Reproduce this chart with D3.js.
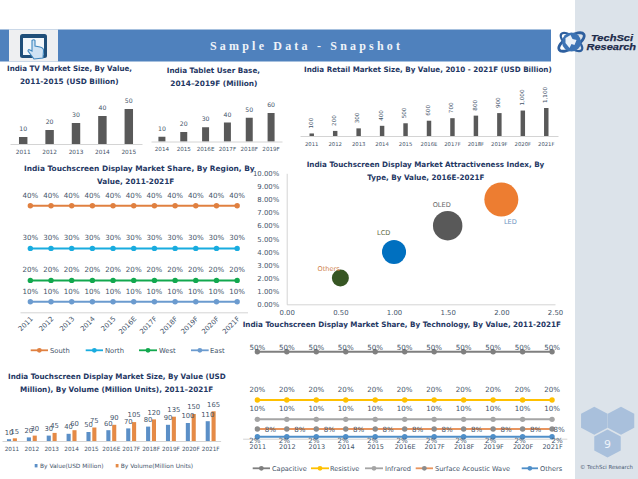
<!DOCTYPE html>
<html><head><meta charset="utf-8">
<script src="https://cdn.jsdelivr.net/npm/d3@7/dist/d3.min.js"></script>
<style>
html,body{margin:0;padding:0;background:#fff}
svg{display:block}
text{font-family:"DejaVu Sans",sans-serif}
</style></head><body><div id="c"></div>
<script>
// ---- Data ----
const tvYears=["2011","2012","2013","2014","2015"];
const tvValues=[10,20,30,40,50];
const tabletYears=["2014","2015","2016E","2017F","2018F","2019F"];
const tabletValues=[10,20,30,40,50,60];
const forecastYears=["2011","2012","2013","2014","2015","2016E","2017F","2018F","2019F","2020F","2021F"];
const retailValues=[100,200,300,400,500,600,700,800,900,1000,1100];
const retailLabels=["100","200","300","400","500","600","700","800","900","1,000","1,100"];
const regionNames=["East","West","North","South"];
const regionEast=[10,10,10,10,10,10,10,10,10,10,10];
const regionWest=[20,20,20,20,20,20,20,20,20,20,20];
const regionNorth=[30,30,30,30,30,30,30,30,30,30,30];
const regionSouth=[40,40,40,40,40,40,40,40,40,40,40];
const bubbleNames=["Others","LCD","OLED","LED"];
const bubbleX=[0.5,1,1.5,2];
const bubbleY=[2,4,6,8];
const bubbleSize=[2,4,6,8];
const techNames=["Others","Surface Acoustic Wave","Infrared","Resistive","Capacitive"];
const techOthers=[2,2,2,2,2,2,2,2,2,2,2];
const techSAW=[8,8,8,8,8,8,8,8,8,8,8];
const techInfrared=[10,10,10,10,10,10,10,10,10,10,10];
const techResistive=[20,20,20,20,20,20,20,20,20,20,20];
const techCapacitive=[50,50,50,50,50,50,50,50,50,50,50];
const sizeValue=[10,20,30,40,50,60,70,80,90,100,110];
const sizeVolume=[15,30,45,60,75,90,105,120,135,150,165];

// ---- Style ----
const W=638,H=479;
const NAVY="#1f3864",TXT="#44546a",AXIS="#c9c9c9",BAR="#595959";
const svg=d3.select("#c").append("svg").attr("width",W).attr("height",H);

// Backgrounds
svg.append("rect").attr("x",575).attr("y",0).attr("width",63).attr("height",479).attr("fill","#dce3ea");
svg.append("rect").attr("x",0).attr("y",29.5).attr("width",551).attr("height",32).attr("fill","#4f81bd");
svg.append("rect").attr("x",9).attr("y",29.5).attr("width",49).attr("height",32).attr("fill","#eeeff1");
// tablet icon
const ic=svg.append("g");
ic.append("rect").attr("x",20).attr("y",34).attr("width",27).attr("height",24).attr("rx",2.5).attr("fill","#1f4e79");
ic.append("rect").attr("x",23).attr("y",38).attr("width",21).attr("height",17).attr("fill","#f2f6fa");
ic.append("path").attr("d","M32 44 L32 40.5 Q34 39 35 40.5 L35 46 L40 47 Q44 48 43.5 51 L43 58 L34 59 L28 51 Q28 49 30 50 L32 51 Z")
  .attr("fill","#cfe2f3").attr("stroke","#3f87bf").attr("stroke-width",1.1);
// header title
svg.append("text").text("Sample Data - Snapshot").attr("x",210).attr("y",50).attr("textLength",190)
  .attr("lengthAdjust","spacing").style("font-family","'Liberation Serif',serif")
  .style("font-weight","bold").style("font-size","12px").attr("fill","#eef3f9");

// logo
const lg=svg.append("g").attr("transform","translate(571.5,42)");
lg.append("ellipse").attr("rx",14.5).attr("ry",6).attr("transform","rotate(-32)").attr("fill","none").attr("stroke","#2e5f9e").attr("stroke-width",2.8);
lg.append("ellipse").attr("rx",13).attr("ry",5.5).attr("transform","rotate(38)").attr("fill","none").attr("stroke","#2e5f9e").attr("stroke-width",2.2);
lg.append("circle").attr("r",9.5).attr("fill","#3c73b4");
lg.append("path").attr("d","M-6 -4 L-1 -7 L1 -3 L5 -2 L3 3 L0 2 L-2 6 L-6 1 Z").attr("fill","#eaf1f8");
[["TechSci",591,40.5,42],["Research",586.5,49.5,49.5]].forEach(d=>{
  svg.append("text").text(d[0]).attr("x",d[1]).attr("y",d[2]).attr("textLength",d[3]).attr("lengthAdjust","spacingAndGlyphs")
   .style("font-family","'Liberation Sans',sans-serif").style("font-weight","bold").style("font-style","italic").style("font-size","9.5px")
   .attr("fill","#1d2b4a").attr("stroke","#1d2b4a").attr("stroke-width",.25);
});

// hexagons
const hexPts=(cx,cy,w,h)=>[[cx,cy-h/2],[cx+w/2,cy-h/4],[cx+w/2,cy+h/4],[cx,cy+h/2],[cx-w/2,cy+h/4],[cx-w/2,cy-h/4]].join(" ");
[[594.3,420.7],[621,420.7],[607.5,443.5]].forEach(c=>svg.append("polygon").attr("points",hexPts(c[0],c[1],26.5,28)).attr("fill","#a9c0dc"));
svg.append("text").text("9").attr("x",607.5).attr("y",447.5).attr("text-anchor","middle").style("font-size","11px").attr("fill","#eef3f9");
svg.append("text").text("© TechSci Research").attr("x",580).attr("y",468.5).attr("textLength",53).attr("lengthAdjust","spacingAndGlyphs").style("font-size","5.6px").attr("fill","#4a5a75");

// Helpers
function title(t,x0,x1,yc,fs){
  svg.append("text").text(t).attr("x",x0).attr("y",yc+2.6).attr("textLength",x1-x0).attr("lengthAdjust","spacingAndGlyphs")
   .style("font-size",(fs||7.4)+"px").style("font-weight","bold").attr("fill",NAVY);
}
function xAxis(scale,y,pad,fs){
  const g=svg.append("g").attr("transform",`translate(0,${y})`).call(d3.axisBottom(scale).tickSize(0).tickPadding(pad));
  g.select(".domain").attr("stroke",AXIS).attr("stroke-width",.8);
  g.selectAll("text").style("font-size",fs+"px").style("font-family","'DejaVu Sans',sans-serif").attr("fill",TXT);
  return g;
}
function valLabel(t,x,y,fs,col,anchor){
  return svg.append("text").text(t).attr("x",x).attr("y",y).attr("dy",".35em").attr("text-anchor",anchor||"middle")
    .style("font-size",fs+"px").attr("fill",col||TXT);
}
function band(dom,r,pi){return d3.scaleBand().domain(dom).range(r).paddingInner(pi).paddingOuter(pi/2);}

// Simple bar charts
function simpleBar(cats,vals,labels,r,pi,y0,ytop,vmax,fs,labOffset,rot){
  const x=band(cats,r,pi), y=d3.scaleLinear().domain([0,vmax]).range([y0,ytop]);
  svg.append("g").selectAll("rect").data(vals).join("rect")
    .attr("x",(d,i)=>x(cats[i])).attr("width",x.bandwidth()).attr("y",d=>y(d)).attr("height",d=>y0-y(d)).attr("fill",BAR);
  xAxis(x,y0,labOffset.axis,fs);
  vals.forEach((d,i)=>{
    const cx=x(cats[i])+x.bandwidth()/2;
    if(rot){
      svg.append("text").text(labels[i]).attr("transform",`translate(${cx+.8},${y(d)-5}) rotate(-90)`).attr("dy",0)
        .style("font-size","5.6px").attr("fill",TXT);
    } else valLabel(labels[i],cx,y(d)-labOffset.val,6.2);
  });
}
title("India TV Market Size, By Value,",7,132,68.3);
title("2011-2015 (USD Billion)",20,118.5,81.7);
simpleBar(tvYears,tvValues,tvValues,[10,142],.68,144,109,50,5.8,{axis:6.2,val:8.5});

title("India Tablet User Base,",166.8,260,70.3);
title("2014–2019F (Million)",170.3,257.5,83.3);
simpleBar(tabletYears,tabletValues,tabletValues,[151,282],.68,141.5,113,60,5.6,{axis:6,val:8});

title("India Retail Market Size, By Value, 2010 - 2021F (USD Billion)",304,551.7,69);
simpleBar(forecastYears,retailValues,retailLabels,[300,558],.81,136,108,1100,5.3,{axis:6},true);

// Stacked lines
function stackLines(keys,tables,colors,markers,yScale,x,labelFn){
  const rows=forecastYears.map((c,i)=>{const o={cat:c};keys.forEach((k,j)=>o[k]=tables[j][i]);return o;});
  const st=d3.stack().keys(keys)(rows);
  const line=d3.line().x(d=>x(d.data.cat)).y(d=>yScale(d[1]));
  st.forEach((s,j)=>{
    svg.append("path").attr("d",line(s)).attr("fill","none").attr("stroke",colors[j]).attr("stroke-width",2);
    svg.append("g").selectAll("circle").data(s).join("circle")
      .attr("cx",d=>x(d.data.cat)).attr("cy",d=>yScale(d[1])).attr("r",2.7).attr("fill",markers[j]);
  });
  st.forEach((s,j)=>{
    s.forEach((d,i)=>{
      const o=labelFn(keys[j],i);
      valLabel((d[1]-d[0])+"%",x(d.data.cat)+o[0],yScale(d[1])+o[1],o[2]||7.1);
    });
  });
}
function legendItem(name,x0,x1,tx,y,col,mk,fs){
  svg.append("line").attr("x1",x0).attr("x2",x1).attr("y1",y).attr("y2",y).attr("stroke",col).attr("stroke-width",1.8);
  svg.append("circle").attr("cx",(x0+x1)/2).attr("cy",y).attr("r",2.4).attr("fill",mk);
  valLabel(name,tx,y,fs,TXT,"start");
}

title("India Touchscreen Display Market Share, By Region, By",24,254.7,168.7);
title("Value, 2011-2021F",97,174.3,181.3);
const xR=d3.scalePoint().domain(forecastYears).range([20,247.5]).padding(.5);
const yR=d3.scaleLinear().domain([0,100]).range([312.4,205.7]);
const gR=xAxis(xR,312.3,0,6.8);
gR.selectAll("text").attr("text-anchor","end").attr("dy",0).attr("y",0).attr("transform","translate(2.5,7) rotate(-45)");
const regionColors=["#6b9bcf","#12a84e","#19acdf","#e08040"];
stackLines(regionNames,[regionEast,regionWest,regionNorth,regionSouth],regionColors,regionColors,yR,xR,()=>[0,-10.5]);
[["South",30.7,48,50,3],["North",85.7,103,105,2],["West",139,157,159,1],["East",191,208.7,210,0]].forEach(d=>
  legendItem(d[0],d[1],d[2],d[3],350.3,regionColors[d[4]],regionColors[d[4]],6.8));

// Bubble
title("India Touchscreen Display Market Attractiveness Index, By",306.7,544.3,164.3);
title("Type, By Value, 2016E-2021F",367.3,484.3,177.3);
const xB=d3.scaleLinear().domain([0,2.5]).range([286.7,555]);
const yB=d3.scaleLinear().domain([0,10]).range([304.3,173.3]);
const rB=d3.scaleSqrt().domain([0,8]).range([0,17]);
const gbx=svg.append("g").attr("transform","translate(0,304.3)").call(d3.axisBottom(xB).tickValues([0,.5,1,1.5,2,2.5]).tickFormat(d3.format(".2f")).tickSize(0).tickPadding(5.5));
const gby=svg.append("g").attr("transform","translate(286.7,0)").call(d3.axisLeft(yB).ticks(10).tickFormat(d=>d3.format(".2f")(d)+"%").tickSize(0).tickPadding(7.5));
[gbx,gby].forEach(g=>{g.select(".domain").attr("stroke",AXIS).attr("stroke-width",.8);
  g.selectAll("text").style("font-size","6.9px").style("font-family","'DejaVu Sans',sans-serif").attr("fill",TXT);});
const bubbleColors=["#375623","#0070c0","#595959","#ed7d31"];
svg.append("g").selectAll("circle").data(bubbleX).join("circle")
  .attr("cx",d=>xB(d)).attr("cy",(d,i)=>yB(bubbleY[i])).attr("r",(d,i)=>rB(bubbleSize[i])).attr("fill",(d,i)=>bubbleColors[i]);
const bubbleLabelOffset=[[-11.7,-9],[-10.3,-19],[-6,-20.7],[9,22]];
const bubbleLabelColor=["#d0824c","#5f6b3f","#666666","#6f96c2"];
bubbleNames.forEach((n,i)=>valLabel(n,xB(bubbleX[i])+bubbleLabelOffset[i][0],yB(bubbleY[i])+bubbleLabelOffset[i][1],6.6,bubbleLabelColor[i]));

// Tech lines
title("India Touchscreen Display Market Share, By Technology, By Value, 2011-2021F",242.7,561,324.3);
const xT=d3.scalePoint().domain(forecastYears).range([242.6,566.8]).padding(.5);
const yT=d3.scaleLinear().domain([0,90]).range([438.7,351.7]);
xAxis(xT,438.7,5.7,6.5);
const techColors=["#4f8fc9","#e8955f","#a5a5a5","#ffc000","#7f7f7f"];
const techMarkers=["#4f8fc9","#8c8c8c","#a5a5a5","#ffc000","#7f7f7f"];
stackLines(techNames,[techOthers,techSAW,techInfrared,techResistive,techCapacitive],techColors,techMarkers,yT,xT,(k,i)=>{
  if(k==="Others") return i===10?[5,4]:[-2.5,4];
  if(k==="Surface Acoustic Wave") return i===10?[7,0]:[13,0];
  if(k==="Capacitive") return [0,-4.4];
  return [0,-10.4];
});
[["Capacitive",252.7,270,272,4],["Resistive",311,329,330,3],["Infrared",365,383,385,2],["Surface Acoustic Wave",415.7,433,435,1],["Others",521.7,538,540,0]].forEach(d=>
  legendItem(d[0],d[1],d[2],d[3],468.3,techColors[d[4]],techMarkers[d[4]],6.6));

// Grouped bars
title("India Touchscreen Display Market Size, By Value (USD",8,225.7,376.3);
title("Million), By Volume (Million Units), 2011–2021F",20,213.3,389.7);
const x0=d3.scaleBand().domain(forecastYears).range([2,220.6]).paddingInner(.5).paddingOuter(.25);
const x1=d3.scaleBand().domain(["v","u"]).range([0,x0.bandwidth()]).paddingInner(.3);
const yS=d3.scaleLinear().domain([0,165]).range([441,411.3]);
const blue="#5b8fc7",orange="#e58a46";
const groups=[[sizeValue,"v",blue],[sizeVolume,"u",orange]];
groups.forEach(([vals,k,col])=>{
  svg.append("g").selectAll("rect").data(vals).join("rect")
    .attr("x",(d,i)=>x0(forecastYears[i])+x1(k)).attr("width",x1.bandwidth())
    .attr("y",d=>yS(d)).attr("height",d=>441-yS(d)).attr("fill",col);
});
groups.forEach(([vals,k])=>{
  vals.forEach((d,i)=>valLabel(d,x0(forecastYears[i])+x1(k)+x1.bandwidth()/2,yS(d)-7,6.8));
});
xAxis(x0,441,6,5.7);
[["By Value(USD Million)",34.7,40,blue],["By Volume(Million Units)",115.7,120.7,orange]].forEach(d=>{
  svg.append("rect").attr("x",d[1]).attr("y",464).attr("width",2.8).attr("height",3.4).attr("fill",d[3]);
  valLabel(d[0],d[2],465.7,5.8,TXT,"start").attr("textLength",d[2]===40?63.5:72.5).attr("lengthAdjust","spacingAndGlyphs");
});
</script></body></html>
